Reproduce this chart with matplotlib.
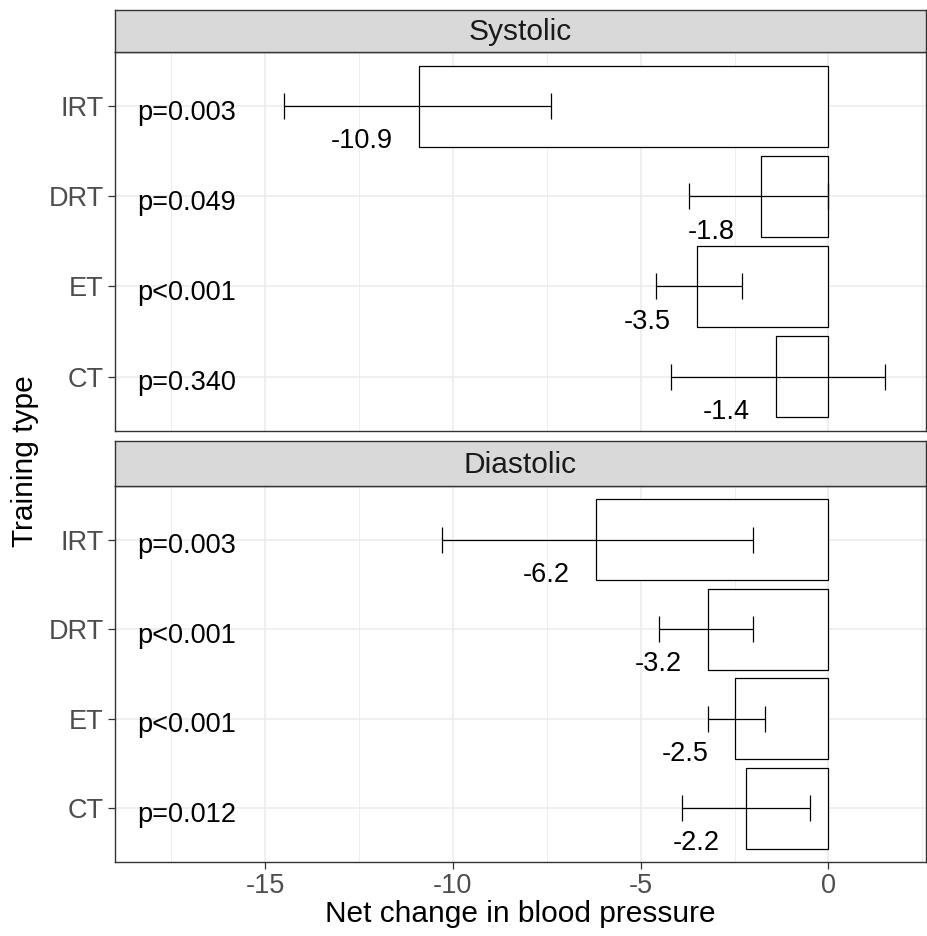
import matplotlib
matplotlib.use("Agg")
import matplotlib.pyplot as plt

plt.rcParams['font.family'] = ['Liberation Sans', 'DejaVu Sans']

categories = ["CT", "ET", "DRT", "IRT"]
panels = ["Systolic", "Diastolic"]

sys_values = [-1.4, -3.5, -1.8, -10.9]
sys_lo = [-4.2, -4.6, -3.7, -14.5]
sys_hi = [1.5, -2.3, 0.0, -7.4]
sys_p = ["p=0.340", "p<0.001", "p=0.049", "p=0.003"]

dia_values = [-2.2, -2.5, -3.2, -6.2]
dia_lo = [-3.9, -3.2, -4.5, -10.3]
dia_hi = [-0.5, -1.7, -2.0, -2.0]
dia_p = ["p=0.012", "p<0.001", "p<0.001", "p=0.003"]

data = {
    "Systolic": (sys_values, sys_lo, sys_hi, sys_p),
    "Diastolic": (dia_values, dia_lo, dia_hi, dia_p),
}

W, H = 927, 936
fig = plt.figure(figsize=(W / 100, H / 100), dpi=100)

def rect(l, t, r, b):
    return [l / W, 1 - b / H, (r - l) / W, (b - t) / H]

panel_px = {"Systolic": (52, 430.7), "Diastolic": (486, 862)}
strip_px = {"Systolic": (9.5, 52), "Diastolic": (441.3, 486)}
L, R = 115, 926

dark = "#333333"
grid_c = "#EBEBEB"
tick_c = "#4D4D4D"
fs = 19.5
fs_lab = 19.5
fs_title = 21.5

ypos = list(range(len(categories)))
for name in panels:
    top, bot = panel_px[name]
    ax = fig.add_axes(rect(L, top, R, bot))
    vals, lo, hi, pl = data[name]
    ax.set_xlim(-19.0, 2.6)
    ax.set_ylim(-0.6, 3.6)
    ax.set_axisbelow(True)
    for x in [-17.5, -12.5, -7.5, -2.5, 2.5]:
        ax.axvline(x, color=grid_c, lw=0.6, zorder=0)
    for x in [-15, -10, -5, 0]:
        ax.axvline(x, color=grid_c, lw=1.1, zorder=0)
    for y in ypos:
        ax.axhline(y, color=grid_c, lw=1.1, zorder=0)
    ax.barh(ypos, vals, height=0.9, color="white", edgecolor="black", linewidth=0.9, zorder=2)
    centers = [(a + b) / 2 for a, b in zip(lo, hi)]
    halves = [(b - a) / 2 for a, b in zip(lo, hi)]
    ax.errorbar(centers, ypos, xerr=halves, fmt="none", ecolor="black",
                elinewidth=0.9, capsize=9.4, capthick=0.9, zorder=3)
    for y, v, p in zip(ypos, vals, pl):
        ax.text(v - 0.7, y - 0.47, f"{v:.1f}", ha="right", va="baseline",
                fontsize=fs_lab, color="black", zorder=4)
        ax.text(-18.4, y - 0.15, p, ha="left", va="baseline",
                fontsize=fs_lab, color="black", zorder=4)
    ax.set_yticks(ypos)
    ax.set_yticklabels(categories, fontsize=fs, color=tick_c)
    ax.set_xticks([-15, -10, -5, 0])
    ax.tick_params(axis="both", length=5, width=0.9, color=dark, pad=3)
    for s in ax.spines.values():
        s.set_color(dark)
        s.set_linewidth(1.0)
    if name == "Systolic":
        ax.tick_params(axis="x", labelbottom=False, length=0)
    else:
        ax.set_xticklabels(["-15", "-10", "-5", "0"], fontsize=fs, color=tick_c)
        ax.set_xlabel("Net change in blood pressure", fontsize=fs_title, color="black", labelpad=1)
    st, sb = strip_px[name]
    sax = fig.add_axes(rect(L, st, R, sb))
    sax.set_facecolor("#D9D9D9")
    sax.set_xticks([])
    sax.set_yticks([])
    for s in sax.spines.values():
        s.set_color(dark)
        s.set_linewidth(1.0)
    sax.text(0.5, 0.47, name, ha="center", va="center", fontsize=fs_title,
             color="#1A1A1A", transform=sax.transAxes)

fig.text(25 / W, 1 - 461 / H, "Training type", rotation=90, ha="center", va="center",
         fontsize=fs_title, color="black")

fig.savefig("out.png", dpi=100)
